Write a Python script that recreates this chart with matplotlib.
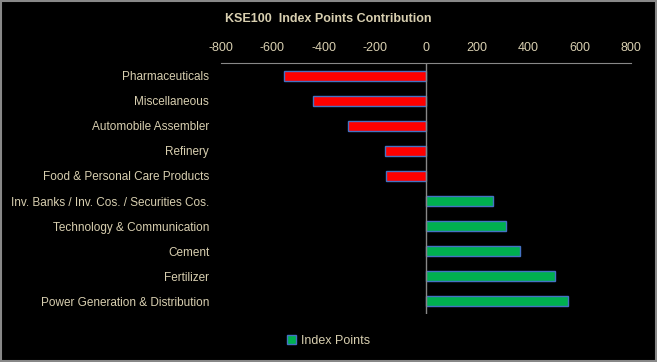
import matplotlib
matplotlib.use("Agg")
import matplotlib.pyplot as plt
from matplotlib.patches import Patch

categories = ["Pharmaceuticals", "Miscellaneous", "Automobile Assembler", "Refinery",
              "Food & Personal Care Products", "Inv. Banks / Inv. Cos. / Securities Cos.",
              "Technology & Communication", "Cement", "Fertilizer",
              "Power Generation & Distribution"]
values = [-555, -441, -303, -161, -157, 261, 312, 366, 503, 554]
ticks = [-800, -600, -400, -200, 0, 200, 400, 600, 800]

txt = "#D8CFB0"
plt.rcParams['font.family'] = ['Liberation Sans', 'DejaVu Sans']

fig = plt.figure(figsize=(6.57, 3.62), dpi=100, facecolor="black")
ax = fig.add_axes([0.3364, 0.1326, 0.624, 0.6934], facecolor="black")

colors = ["#FF0000" if v < 0 else "#00B050" for v in values]
ax.barh(range(len(categories)), values, height=0.4, color=colors,
        edgecolor="#4472C4", linewidth=1.0)

ax.set_xlim(-800, 800)
ax.set_ylim(9.5, -0.5)
ax.set_xticks(ticks)
ax.set_xticklabels([str(t) for t in ticks], color=txt, fontsize=9)
ax.xaxis.tick_top()
ax.tick_params(axis='x', length=0, pad=6.5)
ax.set_yticks(range(len(categories)))
ax.set_yticklabels(categories, color=txt, fontsize=8.5)
ax.tick_params(axis='y', length=0, pad=8.5)

for s in ["bottom", "right", "left"]:
    ax.spines[s].set_visible(False)
ax.spines["top"].set_color("#888888")
ax.axvline(0, color="#888888", linewidth=1)

fig.text(0.5, 0.947, "KSE100  Index Points Contribution", color=txt,
         fontsize=9, fontweight="bold", ha="center", va="center")

leg = fig.legend(handles=[Patch(facecolor="#00B050", edgecolor="#4472C4", label="Index Points")],
                 loc="center", bbox_to_anchor=(0.5, 0.058), frameon=False,
                 fontsize=9, handlelength=0.7, handleheight=0.7, handletextpad=0.4)
for t in leg.get_texts():
    t.set_color(txt)

fig.patches.append(plt.Rectangle((0.001, 0.002), 0.998, 0.996, transform=fig.transFigure,
                                 fill=False, edgecolor="#888888", linewidth=1.5))

fig.savefig("out.png", dpi=100, facecolor="black")
